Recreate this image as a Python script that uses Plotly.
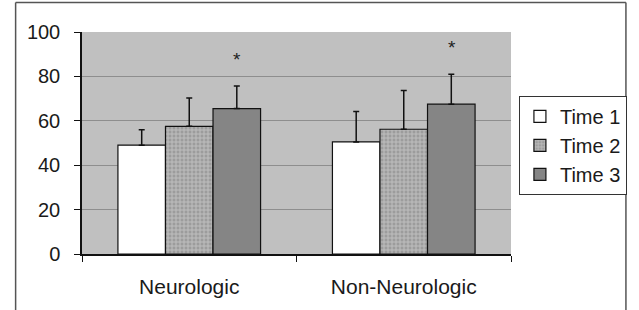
import plotly.graph_objects as go

categories = ["Neurologic", "Non-Neurologic"]
series_names = ["Time 1", "Time 2", "Time 3"]
time1 = [49.0, 50.5]
time2 = [57.5, 56.2]
time3 = [65.5, 67.5]
err1 = [7.0, 13.7]
err2 = [12.8, 17.4]
err3 = [10.2, 13.5]
star_flags = [True, True]  # significance markers on Time 3

W, H = 639, 310
L, R, T, B = 82, 124, 32, 52
pw, ph = W - L - R, H - T - B
bargap = 0.335
font = "Liberation Sans, Arial, sans-serif"

styles = [
    dict(color="#ffffff"),
    dict(color="#b8b8b8", pattern=dict(shape="+", fgcolor="#e0e0e0", bgcolor="#9c9c9c", size=4, solidity=0.45)),
    dict(color="#858585"),
]

fig = go.Figure()
for name, vals, errs, st in zip(series_names, [time1, time2, time3], [err1, err2, err3], styles):
    fig.add_trace(go.Bar(
        x=categories, y=vals, name=name,
        marker=dict(**st, line=dict(color="#111111", width=1.2)),
        error_y=dict(type="data", symmetric=False, array=errs, arrayminus=[0] * len(errs),
                     color="#111111", thickness=1.5, width=3),
    ))

# asterisks above Time 3 bars
bar_px = pw / len(categories) * (1 - bargap) / 3
for c, v, e, f in zip(categories, time3, err3, star_flags):
    if f:
        fig.add_annotation(x=c, y=v + e, xref="x", yref="y", text="*", showarrow=False,
                           xshift=bar_px, yshift=14, yanchor="bottom",
                           font=dict(size=19, color="#222222", family=font))

def px_x(p):
    return (p - L) / pw

def px_y(p):
    return (H - B - p) / ph

# outer frame (left, top, right)
for x0, y0, x1, y1 in [(15, 2, 15, 330), (15, 2, 631, 2), (631, 2, 631, 330)]:
    fig.add_shape(type="line", xref="paper", yref="paper",
                  x0=px_x(x0), y0=px_y(y0), x1=px_x(x1), y1=px_y(y1),
                  line=dict(color="#555555", width=1.5))

fig.update_layout(
    width=W, height=H,
    margin=dict(l=L, r=R, t=T, b=B, pad=0),
    paper_bgcolor="white", plot_bgcolor="#c0c0c0",
    barmode="group", bargap=bargap, bargroupgap=0,
    font=dict(family=font, size=19, color="#1a1a1a"),
    showlegend=True,
    legend=dict(x=px_x(523), y=px_y(97), xanchor="left", yanchor="top",
                bordercolor="#333333", borderwidth=1, bgcolor="white",
                font=dict(size=20), itemwidth=30, tracegroupgap=0,
                itemclick=False),
    xaxis=dict(showline=True, linecolor="#111111", linewidth=1.5,
               ticks="outside", tickson="boundaries", ticklen=6, tickcolor="#111111",
               ticklabelstandoff=13, tickfont=dict(size=21)),
    yaxis=dict(range=[0, 100], dtick=20, showline=True, linecolor="#111111", linewidth=1.5,
               ticks="outside", ticklen=6, tickcolor="#111111",
               showgrid=True, gridcolor="#8e8e8e", gridwidth=1, zeroline=False,
               ticklabelstandoff=10, tickfont=dict(size=20)),
)

fig.write_html("out.html")
